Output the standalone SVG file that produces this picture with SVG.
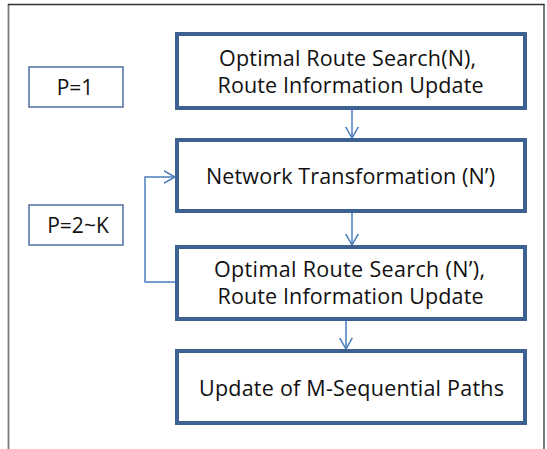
<svg xmlns="http://www.w3.org/2000/svg" width="547" height="449" viewBox="0 0 547 449">
  <style>
    .step { fill: #ffffff; stroke: #3d6190; stroke-width: 4; }
    .tag { fill: #ffffff; stroke: #4f72a3; stroke-width: 1.5; }
    .label { font-family: "Open Sans", "Noto Sans", "Liberation Sans", sans-serif; font-size: 21.5px; fill: #111111; text-anchor: middle; }
    .small { font-size: 21px; }
    .flow { fill: none; stroke: #4a7ebb; stroke-width: 1.5; }
  </style>
  <defs>
    <marker id="head" viewBox="0 0 12 14" refX="11.5" refY="7" markerWidth="12" markerHeight="14" markerUnits="userSpaceOnUse" orient="auto">
      <path d="M0,0.5 L11.5,7 L0,13.5" fill="none" stroke="#4a7ebb" stroke-width="1.5"/>
    </marker>
  </defs>

  <rect width="547" height="449" fill="#ffffff"/>

  <!-- page frame (open at the bottom) -->
  <g id="frame">
    <line x1="8.5" y1="4" x2="8.5" y2="449" stroke="#7a7a7a" stroke-width="1.8"/>
    <line x1="8" y1="4.5" x2="544.5" y2="4.5" stroke="#333333" stroke-width="1.3"/>
    <line x1="544" y1="4" x2="544" y2="449" stroke="#222222" stroke-width="1.2"/>
  </g>

  <!-- connectors -->
  <g id="connectors">
    <line class="flow" x1="352" y1="109" x2="352" y2="138" marker-end="url(#head)"/>
    <line class="flow" x1="352" y1="213" x2="352" y2="245" marker-end="url(#head)"/>
    <line class="flow" x1="346" y1="321" x2="346" y2="349" marker-end="url(#head)"/>
    <polyline class="flow" points="176,282 145,282 145,177 175,177" marker-end="url(#head)"/>
  </g>

  <g id="p1">
    <rect class="tag" x="29" y="67" width="94" height="40"/>
    <text class="label small" x="75" y="95">P=1</text>
  </g>

  <g id="p2k">
    <rect class="tag" x="29" y="205" width="94" height="40"/>
    <text class="label small" x="78" y="233">P=2~K</text>
  </g>

  <g id="search-n">
    <rect class="step" x="177" y="34" width="348" height="74"/>
    <text class="label">
      <tspan x="350.5" y="66" textLength="257">Optimal Route Search(N),</tspan>
      <tspan x="350.5" y="93" textLength="266">Route Information Update</tspan>
    </text>
  </g>

  <g id="transform">
    <rect class="step" x="177" y="140" width="348" height="71"/>
    <text class="label" x="350.5" y="184" textLength="289">Network Transformation (N’)</text>
  </g>

  <g id="search-n-prime">
    <rect class="step" x="177" y="247" width="348" height="72"/>
    <text class="label">
      <tspan x="352.5" y="277" textLength="271">Optimal Route Search (N’),</tspan>
      <tspan x="350.5" y="304" textLength="266">Route Information Update</tspan>
    </text>
  </g>

  <g id="update">
    <rect class="step" x="177" y="351" width="348" height="72"/>
    <text class="label" x="351.5" y="396" textLength="305">Update of M-Sequential Paths</text>
  </g>
</svg>
